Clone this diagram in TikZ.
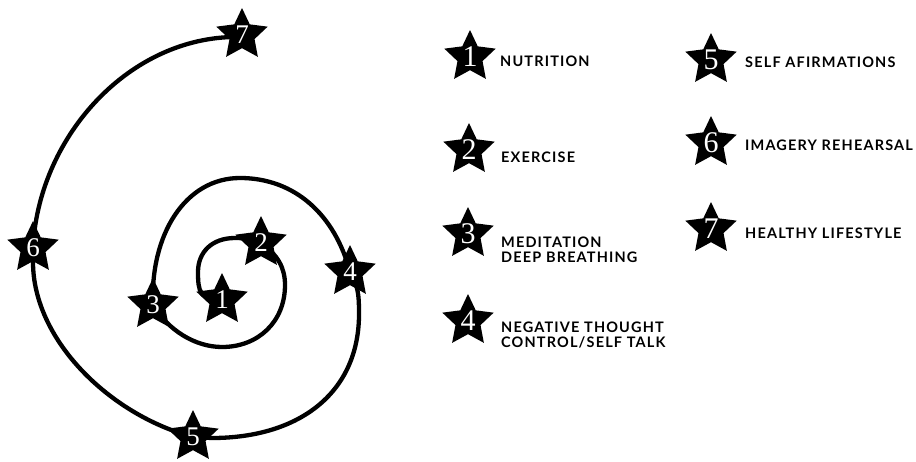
\documentclass[tikz,border=0pt]{standalone}
\usepackage{fontspec}
\usepackage{tikz}
\usetikzlibrary{shapes.geometric}
\newfontfamily\labelfont{Lato}[LetterSpace=8]
\newfontfamily\numfont{Liberation Serif}

\tikzset{
  starmark/.style={star, star points=5, star point ratio=2.05, fill=black,
    draw=none, minimum size=54pt, inner sep=0pt},
  starnum/.style={text=white, inner sep=0pt, font=\numfont\fontsize{27}{27}\selectfont},
  legendnum/.style={starnum, font=\numfont\fontsize{30}{30}\selectfont},
  legendtext/.style={anchor=west, align=left, inner sep=0pt,
    font=\labelfont\bfseries\fontsize{14.5}{15.5}\selectfont},
  spiralline/.style={line width=4.3pt, line cap=round}
}

\begin{document}
\begin{tikzpicture}[x=1pt, y=-1pt]
    \useasboundingbox (0,0) rectangle (916,461);
    % Stars on the spiral
    \foreach \n/\x/\y in {1/222/300, 2/261/243, 3/153/305, 4/350/272,
                          5/193/437, 6/33/248, 7/242/35} {
        \node[starmark] (s\n) at (\x,\y) {};
    }
    % Spiral, from star to star
    \draw[spiralline] (s1.center) .. controls (200,300) and (198,292) .. (198,272)
        .. controls (198,252) and (212,238) .. (235,238)
        .. controls (248,238) and (256,240) .. (s2.center);
    \draw[spiralline] (s2.center) .. controls (278,255) and (285,268) .. (285,285)
        .. controls (285,322) and (258,347) .. (222,347)
        .. controls (195,347) and (168,330) .. (s3.center);
    \draw[spiralline] (s3.center) .. controls (150,235) and (185,178) .. (240,178)
        .. controls (295,178) and (335,215) .. (s4.center);
    \draw[spiralline] (s4.center) .. controls (358,285) and (359,295) .. (359,312)
        .. controls (360,392) and (300,438) .. (212,438) -- (s5.center);
    \draw[spiralline] (s5.center) .. controls (110,415) and (33,340) .. (33,262)
        -- (s6.center);
    \draw[spiralline] (s6.center) .. controls (38,140) and (125,40) .. (232,37)
        -- (s7.center);
    % Numbers on top
    \foreach \n in {1,...,7} {
        \node[starnum] (d\n) at (s\n) {\n};
    }
    % Legend
    \foreach \n/\x/\y in {1/470/57, 2/469/150, 3/468/234, 4/468/321,
                          5/711/60, 6/711/143, 7/711/229} {
        \node[starmark] (l\n) at (\x,\y) {};
        \node[legendnum] (ln\n) at (l\n) {\n};
    }
    \node[legendtext] (t1) at (500,61) {NUTRITION};
    \node[legendtext] (t2) at (501,157) {EXERCISE};
    \node[legendtext] (t3) at (501,250) {MEDITATION\\DEEP BREATHING};
    \node[legendtext] (t4) at (501,335) {NEGATIVE THOUGHT\\CONTROL/SELF TALK};
    \node[legendtext] (t5) at (745,62) {SELF AFIRMATIONS};
    \node[legendtext] (t6) at (745,145) {IMAGERY REHEARSAL};
    \node[legendtext] (t7) at (745,233) {HEALTHY LIFESTYLE};
\end{tikzpicture}
\end{document}
